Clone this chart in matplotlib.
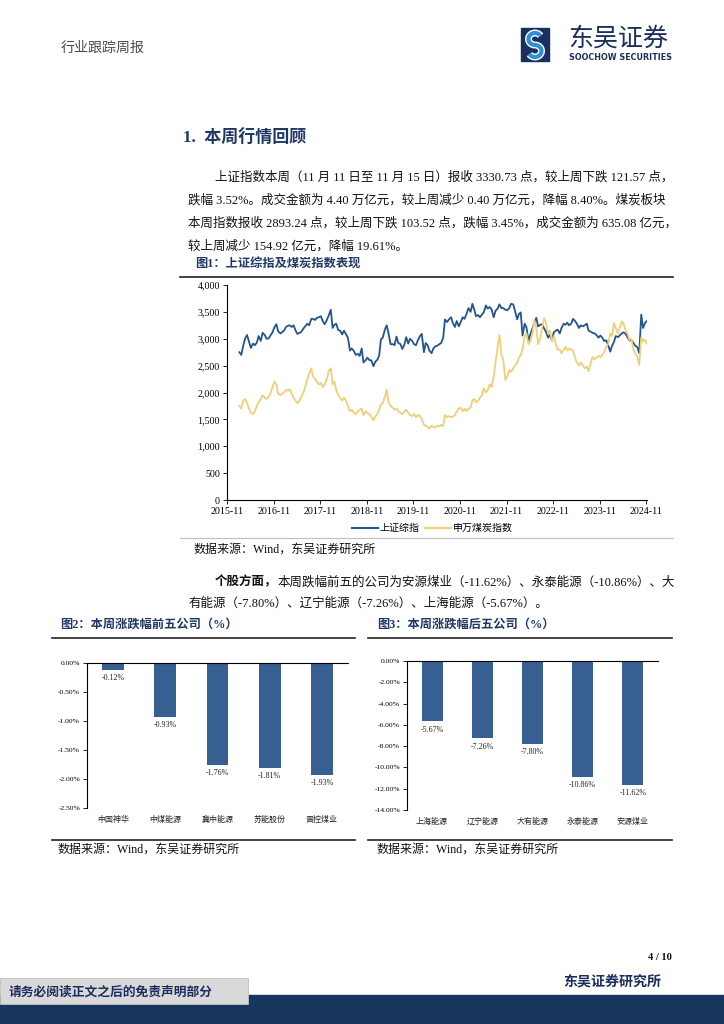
import numpy as np
import pandas as pd
import matplotlib
matplotlib.use('Agg')
import matplotlib.pyplot as plt
from matplotlib.ticker import FuncFormatter
from matplotlib.patches import Rectangle, Arc
from matplotlib.lines import Line2D

# Shanghai composite, semi-monthly readings (1st / 15th), from 2016-02-15
sh_2016 = [2750, 2700, 2860, 3010, 3070, 2940, 2830, 2910, 2880, 2930, 3050, 2960, 3110, 3070, 3000, 3005, 3060, 3120, 3210, 3270, 3140]
sh_2017 = [3100, 3120, 3160, 3220, 3240, 3250, 3220, 3250, 3150, 3090, 3110, 3130, 3190, 3230, 3280, 3250, 3370, 3370, 3350, 3390, 3400, 3420, 3320, 3270]
sh_2018 = [3350, 3430, 3540, 3200, 3260, 3280, 3160, 3150, 3080, 3150, 3080, 3020, 2780, 2820, 2770, 2700, 2720, 2680, 2820, 2560, 2600, 2650, 2600, 2600]
sh_2019 = [2490, 2570, 2610, 2690, 2990, 3020, 3170, 3250, 3080, 2900, 2900, 2880, 3040, 2920, 2900, 2810, 2890, 3030, 2910, 3000, 2960, 2900, 2880, 2970]
sh_2020 = [3050, 3090, 2750, 2920, 2880, 2780, 2730, 2820, 2860, 2870, 2900, 2920, 3020, 3360, 3310, 3360, 3400, 3290, 3220, 3330, 3230, 3310, 3400, 3370]
sh_2021 = [3470, 3570, 3500, 3650, 3550, 3420, 3440, 3400, 3450, 3490, 3620, 3560, 3590, 3550, 3400, 3520, 3560, 3640, 3570, 3570, 3540, 3530, 3570, 3650]
sh_2022 = [3640, 3520, 3360, 3460, 3490, 3060, 3280, 3210, 2950, 3080, 3190, 3300, 3390, 3230, 3260, 3270, 3190, 3130, 3020, 3070, 2970, 3120, 3150, 3170]
sh_2023 = [3100, 3200, 3280, 3260, 3300, 3250, 3280, 3370, 3330, 3280, 3200, 3250, 3230, 3250, 3280, 3150, 3130, 3110, 3100, 3070, 3020, 3060, 3020, 2960]
sh_2024 = [2970, 2880, 2760, 2870, 2940, 3050, 3030, 3060, 3100, 3120, 3090, 3030, 2970, 2970, 2920, 2870, 2840, 2730, 3450, 3200, 3300, 3330]

# SW coal index, same dates
coal_2016 = [1750, 1700, 1850, 1880, 1800, 1700, 1620, 1600, 1650, 1750, 1820, 1880, 1950, 1900, 1880, 1920, 1980, 2100, 2200, 2150, 1980]
coal_2017 = [1950, 1980, 2000, 2050, 2030, 2060, 1980, 1900, 1850, 1800, 1850, 1920, 2000, 2100, 2250, 2350, 2450, 2300, 2250, 2200, 2150, 2180, 2100, 2150]
coal_2018 = [2250, 2400, 2450, 2150, 2200, 2050, 1950, 1900, 1850, 1900, 1850, 1750, 1650, 1680, 1620, 1600, 1650, 1680, 1700, 1580, 1650, 1620, 1600, 1550]
coal_2019 = [1480, 1550, 1600, 1680, 1780, 1800, 1920, 2050, 1800, 1750, 1720, 1680, 1700, 1650, 1620, 1600, 1650, 1680, 1620, 1580, 1560, 1600, 1540, 1580]
coal_2020 = [1560, 1500, 1400, 1380, 1360, 1330, 1380, 1360, 1350, 1380, 1370, 1400, 1380, 1580, 1540, 1560, 1540, 1550, 1580, 1650, 1700, 1720, 1650, 1700]
coal_2021 = [1650, 1700, 1720, 1850, 1880, 1820, 1850, 1900, 1950, 2080, 2000, 2050, 2150, 2100, 2300, 2550, 2850, 3070, 2700, 2600, 2230, 2300, 2420, 2380]
coal_2022 = [2450, 2500, 2550, 2650, 2700, 2800, 3050, 3100, 2900, 2950, 3100, 3350, 3200, 2900, 3000, 3200, 3380, 3300, 3100, 3150, 2950, 3050, 2900, 2800]
coal_2023 = [2800, 2730, 2800, 2850, 2780, 2820, 2800, 2780, 2650, 2550, 2500, 2560, 2500, 2450, 2480, 2400, 2550, 2660, 2620, 2650, 2680, 2660, 2700, 2750]
coal_2024 = [2850, 2900, 3100, 3050, 3290, 3200, 3100, 3200, 3320, 3280, 3150, 3100, 2980, 3000, 2800, 2730, 2650, 2510, 3030, 2950, 2980, 2900]

series_names = ['上证综指', '申万煤炭指数']
year_ticks = ['2015-11', '2016-11', '2017-11', '2018-11', '2019-11', '2020-11', '2021-11', '2022-11', '2023-11', '2024-11']

top_names = ['中国神华', '中煤能源', '冀中能源', '苏能股份', '晋控煤业']
top_vals = [-0.12, -0.93, -1.76, -1.81, -1.93]
bottom_names = ['上海能源', '辽宁能源', '大有能源', '永泰能源', '安源煤业']
bottom_vals = [-5.67, -7.26, -7.80, -10.86, -11.62]

CJK = ['Noto Sans CJK SC', 'DejaVu Sans']
MIX = ['Liberation Serif', 'Noto Sans CJK SC']
plt.rcParams['font.family'] = MIX

NAVY = '#1F3864'
BLUE = '#23558E'
GOLD = '#F0CF78'
BAR = '#375F92'
W, H = 724, 1024
BODY = 12.5  # body text size in px


def pt(px):
    return px * 0.72


fig = plt.figure(figsize=(7.24, 10.24), dpi=100)
page = fig.add_axes([0, 0, 1, 1])
page.set_xlim(0, W)
page.set_ylim(H, 0)
page.axis('off')


def put(x, y, s, px, **kw):
    kw.setdefault('color', '#111111')
    page.text(x, y, s, fontsize=pt(px), va='center', **kw)


def box(l, t, r, b):
    return fig.add_axes([l / W, 1 - b / H, (r - l) / W, (b - t) / H])


# header
put(61, 48, '行业跟踪周报', 14, color='#4A4A4A', family=CJK)
page.add_patch(Rectangle((521, 28), 28, 33, color='#1B2F5E'))
for (t1, t2), cy in [((90, 330), 39), ((-90, 150), 51)]:
    page.add_patch(Arc((535, cy), 13, 12, theta1=t1, theta2=t2, color='white', lw=5))
    page.add_patch(Arc((535, cy), 13, 12, theta1=t1, theta2=t2, color='#2F8FD8', lw=3))
put(568, 39, '东吴证券', 25, color='#1B2F5E', family=CJK)
put(569, 58, 'SOOCHOW SECURITIES', 8, color='#1B2F5E', family='DejaVu Sans', weight='bold')

# section heading and paragraph
put(183, 138, '1.  本周行情回顾', 17, color=NAVY, weight='bold')
para1 = ['上证指数本周（11 月 11 日至 11 月 15 日）报收 3330.73 点，较上周下跌 121.57 点，',
         '跌幅 3.52%。成交金额为 4.40 万亿元，较上周减少 0.40 万亿元，降幅 8.40%。煤炭板块',
         '本周指数报收 2893.24 点，较上周下跌 103.52 点，跌幅 3.45%，成交金额为 635.08 亿元，',
         '较上周减少 154.92 亿元，降幅 19.61%。']
for i, line in enumerate(para1):
    put(215 if i == 0 else 188, 177 + i * 23.3, line, BODY)

# figure 1
put(195, 265, '图1：上证综指及煤炭指数表现', 12.2, color=NAVY, weight='bold')
page.plot([180, 673], [277, 277], color='#222222', lw=1.2)
page.plot([180, 673], [538, 538], color='#BFBFBF', lw=0.8)
put(194, 550, '数据来源：Wind，东吴证券研究所', 12)

sh = sh_2016 + sh_2017 + sh_2018 + sh_2019 + sh_2020 + sh_2021 + sh_2022 + sh_2023 + sh_2024
coal = coal_2016 + coal_2017 + coal_2018 + coal_2019 + coal_2020 + coal_2021 + coal_2022 + coal_2023 + coal_2024
dates = pd.date_range('2016-02-15', periods=len(sh), freq='SMS')

ax1 = box(227, 285, 647, 500)
ax1.plot(dates, sh, color=BLUE, lw=1.3)
ax1.plot(dates, coal, color=GOLD, lw=1.3)
ax1.set_ylim(0, 4000)
ax1.set_yticks(range(0, 4001, 500))
ax1.yaxis.set_major_formatter(FuncFormatter(lambda v, p: f'{v:,.0f}'))
ax1.set_xlim(pd.Timestamp('2015-11-10'), pd.Timestamp('2024-11-15'))
ax1.set_xticks(pd.to_datetime([y + '-10' for y in year_ticks]))
ax1.set_xticklabels(year_ticks)
ax1.spines[['top', 'right']].set_visible(False)
for s in ['left', 'bottom']:
    ax1.spines[s].set_linewidth(0.8)
ax1.tick_params(length=3, width=0.6, labelsize=pt(10), pad=2)

handles = [Line2D([], [], color=BLUE, lw=1.5), Line2D([], [], color=GOLD, lw=1.5)]
fig.legend(handles, series_names, loc='center', bbox_to_anchor=(432 / W, 1 - 528 / H), ncol=2,
           frameon=False, prop={'family': CJK, 'size': pt(10)}, handlelength=2.6,
           handletextpad=0.2, columnspacing=0.5)

# paragraph 2
put(215, 582, '个股方面，', BODY, weight='bold')
put(278, 582, '本周跌幅前五的公司为安源煤业（-11.62%）、永泰能源（-10.86%）、大', BODY)
put(188, 604, '有能源（-7.80%）、辽宁能源（-7.26%）、上海能源（-5.67%）。', BODY)


def bars(ax, names, vals, lo, step):
    x = np.arange(len(names))
    ax.bar(x, vals, width=0.42, color=BAR)
    for xi, v in zip(x, vals):
        ax.annotate(f'{v:.2f}%', (xi, v), xytext=(0, -6), textcoords='offset points',
                    ha='center', va='center', fontsize=pt(8), color='#222222')
    ax.set_xlim(-0.5, len(names) - 0.5)
    ax.set_ylim(lo, 0)
    ticks = np.arange(0, lo - step / 2, -step)
    ax.set_yticks(ticks)
    ax.set_yticklabels([f'{t:.2f}%' for t in ticks], fontsize=pt(7.5))
    ax.set_xticks(x)
    ax.set_xticklabels(names, family=CJK, fontsize=pt(8), color='#222222')
    ax.tick_params(axis='x', length=0, pad=5)
    ax.tick_params(axis='y', length=3, width=0.6, pad=2)
    ax.spines[['right', 'bottom']].set_visible(False)
    ax.spines[['top', 'left']].set_linewidth(0.8)


# figure 2
put(60, 625, '图2：本周涨跌幅前五公司（%）', 12.2, color=NAVY, weight='bold')
page.plot([52, 355], [638, 638], color='#222222', lw=1.2)
page.plot([52, 355], [840, 840], color='#222222', lw=1.2)
put(58, 850, '数据来源：Wind，东吴证券研究所', 12)
ax2 = box(87, 663, 348, 808)
bars(ax2, top_names, top_vals, -2.5, 0.5)

# figure 3
put(377, 625, '图3：本周涨跌幅后五公司（%）', 12.2, color=NAVY, weight='bold')
page.plot([368, 672], [638, 638], color='#222222', lw=1.2)
page.plot([368, 672], [840, 840], color='#222222', lw=1.2)
put(377, 850, '数据来源：Wind，东吴证券研究所', 12)
ax3 = box(407, 661, 658, 810)
bars(ax3, bottom_names, bottom_vals, -14, 2)

# footer
put(672, 957, '4 / 10', 10.5, weight='bold', ha='right')
put(661, 982, '东吴证券研究所', 14, color='#1B2F5E', weight='bold', ha='right', family=CJK)
page.add_patch(Rectangle((0, 995), W, 29, color='#17365D'))
page.add_patch(Rectangle((0, 978), 248, 26, facecolor='#D9D9D9', edgecolor='#BFBFBF', lw=0.6))
put(9, 992, '请务必阅读正文之后的免责声明部分', 12.8, color='#1B2F5E', weight='bold', family=CJK)

fig.savefig('out.png', dpi=100)
